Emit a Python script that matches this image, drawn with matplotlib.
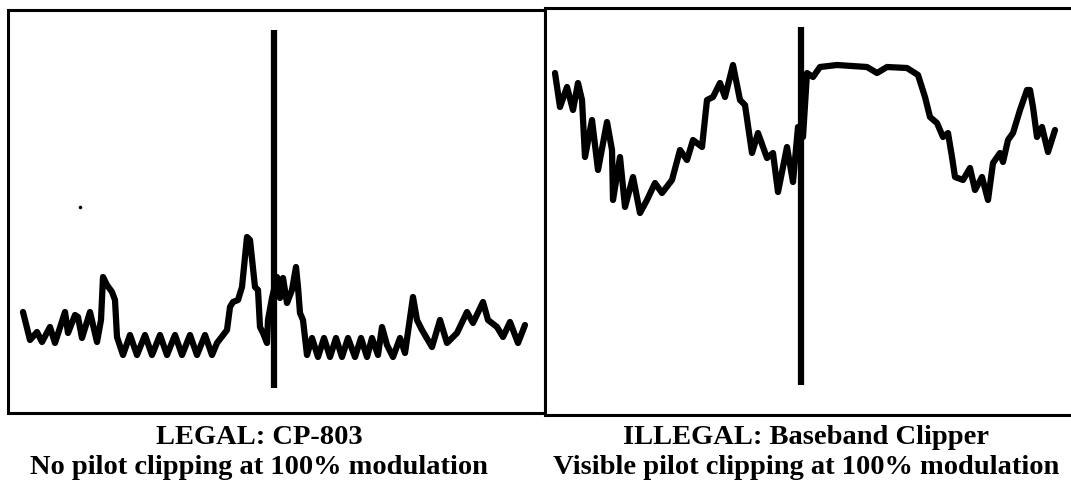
import matplotlib.pyplot as plt

# trace points (x across the screen, y down the screen)
legal_x = [23, 30, 37, 42, 50, 55, 65, 68, 75, 78, 82, 90, 97, 101, 103, 107, 112, 115, 117, 123,
           130, 137, 145, 152, 160, 167, 175, 182, 190, 197, 205, 212,
           217, 227, 230, 233, 238, 242, 247, 250, 255, 258, 260, 263, 267, 268, 272,
           277, 280, 283, 287, 292, 296, 298, 300, 303, 307,
           312, 318, 324, 330, 336, 342, 348, 355, 361, 367, 372, 378, 382, 387, 393,
           400, 405, 413, 417, 422, 432, 440, 447, 457, 467, 473, 483, 488, 497, 503,
           510, 518, 525]
legal_y = [312, 340, 332, 342, 327, 343, 312, 333, 315, 317, 338, 312, 342, 320, 277, 285, 292, 300, 337, 355,
           335, 355, 335, 355, 335, 355, 335, 355, 335, 355, 335, 355,
           343, 330, 307, 302, 300, 287, 237, 240, 287, 290, 327, 333, 343, 320, 298,
           277, 298, 278, 303, 290, 267, 287, 313, 320, 355,
           338, 357, 338, 357, 338, 357, 338, 357, 338, 357, 338, 355, 327, 345, 357,
           338, 353, 297, 320, 330, 347, 320, 343, 333, 312, 323, 302, 320, 327, 337,
           322, 343, 325]

illegal_x = [555, 560, 567, 573, 578, 582, 585, 592, 598, 607, 612, 613, 620, 625, 633, 640, 647,
             655, 662, 672, 680, 687, 693, 702, 707, 713, 720, 725, 733, 740, 745, 752, 758,
             767, 773, 778, 787, 793, 798, 803,
             807, 813, 820, 837, 867, 877, 887, 907, 918, 925, 930, 937, 943, 948, 952, 955,
             963, 970, 975, 982, 988, 993, 1000, 1003, 1008, 1013, 1020, 1027, 1030, 1033,
             1037, 1042, 1048, 1055]
illegal_y = [73, 107, 87, 110, 83, 100, 157, 120, 170, 122, 150, 200, 157, 207, 177, 213, 200,
             183, 193, 180, 150, 160, 140, 147, 100, 97, 83, 97, 65, 100, 105, 153, 133,
             158, 153, 192, 147, 182, 127, 137,
             73, 77, 67, 65, 67, 73, 67, 68, 75, 97, 117, 123, 137, 133, 157, 177,
             180, 168, 190, 177, 200, 163, 153, 162, 140, 133, 110, 90, 90, 107,
             137, 127, 152, 130]

pilot_legal = 274
pilot_illegal = 801

titles = ['LEGAL: CP-803', 'ILLEGAL: Baseband Clipper']
notes = ['No pilot clipping at 100% modulation', 'Visible pilot clipping at 100% modulation']

fig = plt.figure(figsize=(10.71, 4.86), dpi=100)
fig.patch.set_facecolor('white')

ax1 = fig.add_axes([8 / 1071, 73 / 486, 537 / 1071, 403 / 486])
ax2 = fig.add_axes([545 / 1071, 71 / 486, 530 / 1071, 407 / 486])

ax1.plot(legal_x, legal_y, color='black', lw=4.5, solid_joinstyle='round', solid_capstyle='round')
ax1.vlines(pilot_legal, 30, 388, color='black', lw=4.5)
ax1.plot([80], [207], 'k.', ms=3)
ax1.set_xlim(8, 545)
ax1.set_ylim(413, 10)

ax2.plot(illegal_x, illegal_y, color='black', lw=4.5, solid_joinstyle='round', solid_capstyle='round')
ax2.vlines(pilot_illegal, 27, 385, color='black', lw=4.5)
ax2.set_xlim(545, 1075)
ax2.set_ylim(415, 8)

for ax in (ax1, ax2):
    ax.set_xticks([])
    ax.set_yticks([])
    for s in ax.spines.values():
        s.set_linewidth(2.2)
        s.set_color('black')

centers = [259, 806]
for cx, t, n in zip(centers, titles, notes):
    fig.text(cx / 1071, 1 - 437 / 486, t, ha='center', va='center',
             family='Liberation Serif', weight='bold', fontsize=20.5)
    fig.text(cx / 1071, 1 - 467 / 486, n, ha='center', va='center',
             family='Liberation Serif', weight='bold', fontsize=20.5)

fig.savefig('out.png', dpi=100, facecolor='white')
